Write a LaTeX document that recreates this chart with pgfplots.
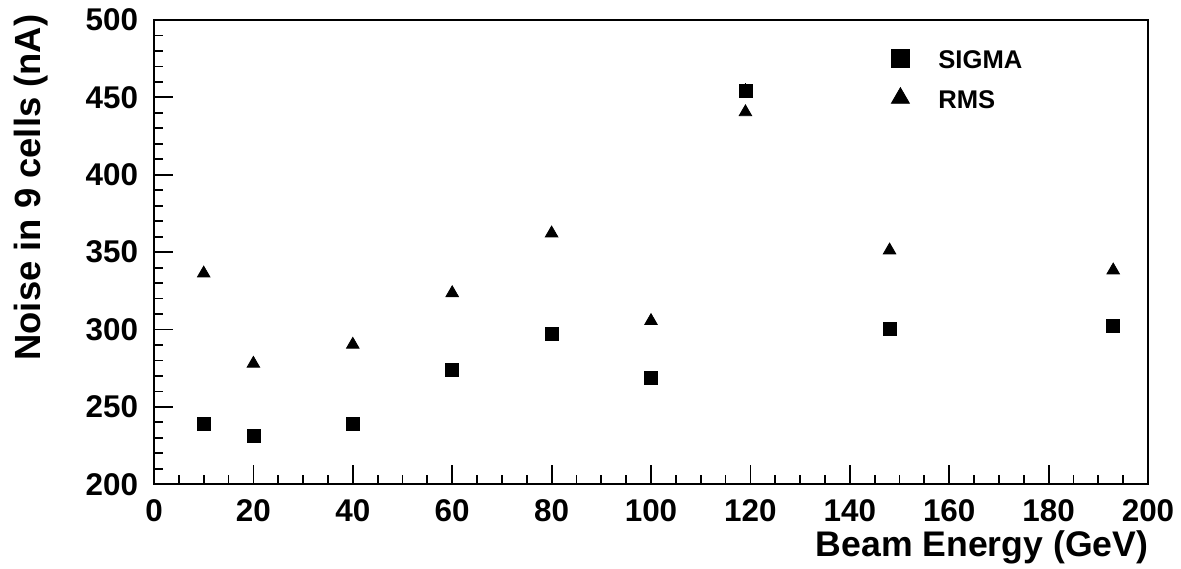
\documentclass[border=0pt]{standalone}
\usepackage{fontspec}
\setmainfont{Liberation Sans}
\usepackage{pgfplots}
\pgfplotsset{compat=1.18}
\begin{document}
\begin{tikzpicture}
\useasboundingbox (-77bp,-42.35bp) rectangle (513.5bp,242.15bp);
\begin{axis}[
  at={(0,0)}, anchor=origin,
  scale only axis, width=497bp, height=232.15bp,
  xmin=0, xmax=200, ymin=200, ymax=500,
  xtick={0,20,...,200}, ytick={200,250,...,500},
  minor x tick num=3, minor y tick num=4,
  tick align=inside, xtick pos=lower, ytick pos=left,
  major tick length=9.7bp, minor tick length=4.7bp,
  axis line style={line width=1bp},
  every tick/.style={line width=0.9bp, black},
  /pgf/number format/assume math mode=true,
  tick label style={font=\fontsize{15.7bp}{18bp}\selectfont\bfseries, inner sep=0pt},
  xticklabel style={anchor=base, yshift=-18.7bp},
  yticklabel style={anchor=east, xshift=-7.8bp},
  legend style={draw=none, fill=none, at={(368.5bp,218.6bp)}, anchor=north west,
    inner sep=0pt, column sep=14.5bp, row sep=9.5bp,
    nodes={inner sep=0pt, text height=10.5bp, text depth=0bp, anchor=base west},
    font=\fontsize{12.8bp}{15bp}\selectfont\bfseries},
  legend cell align=left,
  legend image code/.code={\path[#1] plot coordinates {(4.5bp,5.2bp)};},
]
\addlegendimage{only marks, mark=square*, black, mark size=4.5bp}
\addlegendentry{SIGMA}
\addlegendimage{only marks, mark=triangle*, black, mark size=5.2bp}
\addlegendentry{RMS}
\addplot[only marks, mark=square*, black, mark size=3.25bp,
  error bars/.cd, y dir=both, y explicit, error mark=none,
  error bar style={line width=0.8bp}]
  table[x=x, y=y, y error=e] {
x y e
10 239.0 0
20 231.3 0
40 239.0 0
60 274.0 0
80 297.3 0
100 269.0 0
119 454.3 5
148 300.4 0
193 302.1 0
};
\addplot[only marks, mark=triangle*, black, mark size=3.6bp] coordinates {
(10,336.3) (20,278.0) (40,290.3) (60,323.6) (80,362.2) (100,305.6) (119,440.5) (148,351.2) (193,338.3)
};
\end{axis}
\node[rotate=90, anchor=base east, inner sep=0pt, font=\fontsize{18.2bp}{20bp}\selectfont\bfseries] at (-56.5bp,235bp) {Noise in 9 cells (nA)};
\node[anchor=base east, inner sep=0pt, font=\fontsize{17.8bp}{20bp}\selectfont\bfseries] at (497.3bp,-36.2bp) {Beam Energy (GeV)};
\end{tikzpicture}
\end{document}
